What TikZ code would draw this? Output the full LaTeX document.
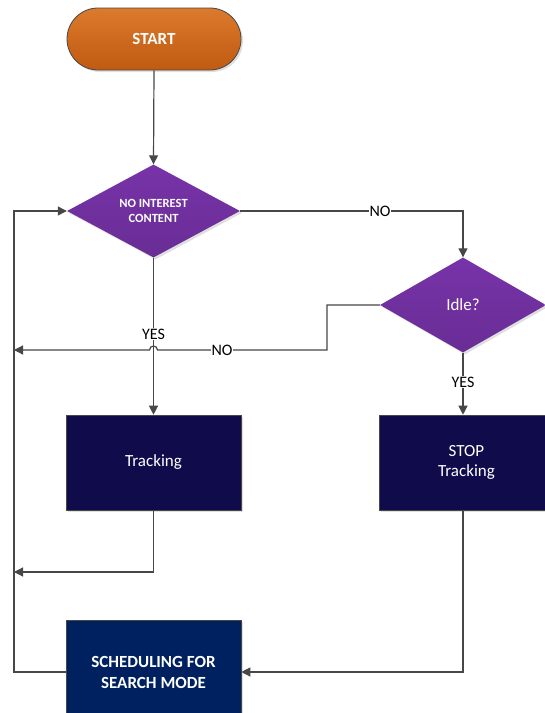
\documentclass[tikz,border=0pt]{standalone}
\usepackage{fontspec}
\setmainfont{Carlito}
\usetikzlibrary{shapes.geometric,arrows.meta,shadows}
\definecolor{lineC}{HTML}{474747}
\definecolor{orgTop}{HTML}{DB7A2C}
\definecolor{orgBot}{HTML}{C05A12}
\definecolor{purTop}{HTML}{7733A8}
\definecolor{purBot}{HTML}{692D95}
\definecolor{navyA}{HTML}{100C4B}
\definecolor{navyB}{HTML}{00215F}
\begin{document}
\begin{tikzpicture}[x=1pt,y=-1pt,
  conn/.style={draw=lineC,line width=1.2pt,-{Triangle[length=9pt,width=9pt]}},
  plain/.style={draw=lineC,line width=1.2pt},
  shade/.style={drop shadow={shadow xshift=2pt,shadow yshift=-2pt,opacity=0.25}},
  startbox/.style={rectangle,rounded corners=31pt,minimum width=174pt,minimum height=62pt,
    top color=orgTop,bottom color=orgBot,draw=lineC,line width=0.8pt,text=white,
    font=\fontsize{17}{19}\selectfont\bfseries,shade},
  decbox/.style={diamond,top color=purTop,bottom color=purBot,draw=none,text=white,
    inner sep=0pt,align=center,shade},
  procbox/.style={rectangle,minimum width=175pt,minimum height=95pt,fill=navyA,draw=lineC,
    line width=0.6pt,text=white,align=center,font=\fontsize{17}{20}\selectfont,shade},
  lbl/.style={fill=white,inner sep=1pt,text=black,font=\fontsize{16}{18}\selectfont}
]
\useasboundingbox (0,0) rectangle (545,713);

\node[startbox] (start) at (154,39) {START};
\node[decbox,minimum width=173pt,minimum height=93pt,
  font=\fontsize{12.5}{14.5}\selectfont\bfseries] (nic) at (153.5,211) {NO INTEREST\\CONTENT};
\node[decbox,minimum width=166pt,minimum height=95pt,
  font=\fontsize{17}{19}\selectfont] (idle) at (463,305) {Idle?};
\node[procbox] (track) at (153.5,462.5) {Tracking};
\node[procbox] (stop) at (466.5,462.5) {STOP\\Tracking};
\node[procbox,fill=navyB,minimum height=104pt,font=\fontsize{17}{21}\selectfont\bfseries] (sched) at (153.5,672) {SCHEDULING FOR\\SEARCH MODE};

\coordinate (nr) at (463,211);
\coordinate (il) at (327,305);
\coordinate (ib) at (327,350);
\coordinate (hopR) at (157.5,350);
\coordinate (leftNo) at (14,350);
\coordinate (tb) at (153.5,572);
\coordinate (leftT) at (14,572);
\coordinate (sb) at (463,672);
\coordinate (sl) at (14,672);
\coordinate (st) at (14,211);

% start -> decision
\draw[conn] (start.south) -- (nic.north);
% NO -> idle
\draw[conn] (nic.east) -- (nr) -- (idle.north);
\node[lbl] at (380,211) {NO};
% YES -> tracking
\draw[conn] (nic.south) -- (track.north);
\node[lbl] at (153.5,334) {YES};
% idle NO -> left
\draw[conn] (idle.west) -- (il) -- (ib) -- (hopR) arc (0:-180:4) -- (leftNo);
\node[lbl] at (222,350) {NO};
% idle YES -> stop
\draw[conn] (idle.south) -- (stop.north -| idle.south);
\node[lbl] at (463,382) {YES};
% tracking -> left
\draw[conn] (track.south) -- (tb) -- (leftT);
% stop -> scheduling
\draw[conn] (stop.south -| sb) -- (sb) -- (sched.east);
% scheduling -> decision loop
\draw[conn] (sched.west) -- (sl) -- (st) -- (nic.west);
\end{tikzpicture}
\end{document}
